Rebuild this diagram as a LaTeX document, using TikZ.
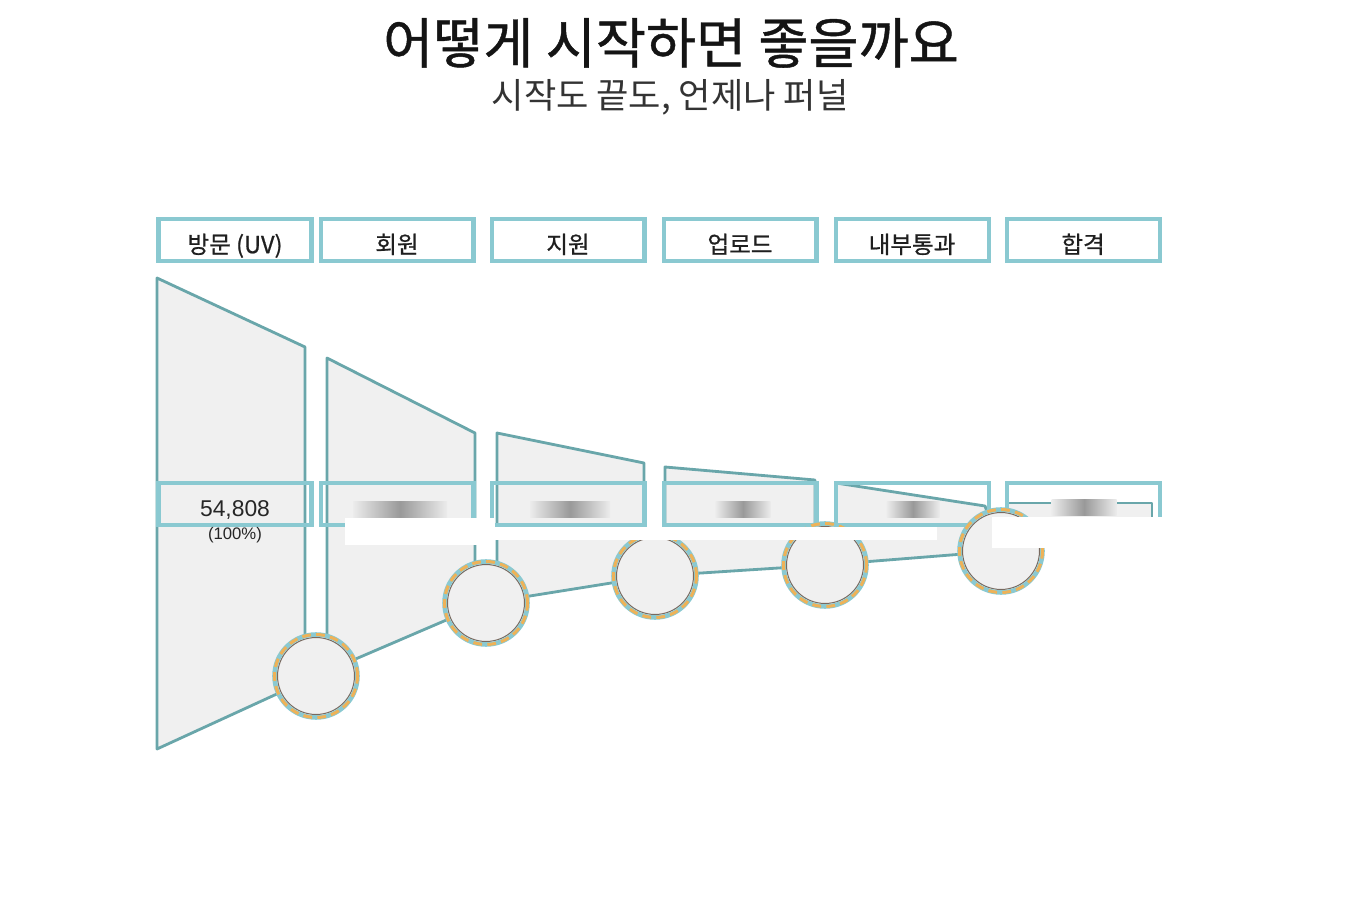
\documentclass[tikz,border=0pt]{standalone}
\usepackage{fontspec}
\setmainfont{Liberation Sans}
\newfontfamily\kofont{Noto Sans CJK KR}
\newfontfamily\kofontmed{Noto Sans CJK KR}[FakeBold=0.8]
\usepackage{tikz}
\usetikzlibrary{positioning}

\definecolor{boxteal}{RGB}{138,201,209}
\definecolor{edgeteal}{RGB}{105,166,170}
\definecolor{funnelgray}{RGB}{240,240,240}
\definecolor{ringorange}{RGB}{238,178,88}
\definecolor{ringinner}{RGB}{120,105,95}

\begin{document}
\begin{tikzpicture}[
    x=0.02cm, y=-0.02cm,
    hdrbox/.style={draw=boxteal, line width=2.3pt, minimum width=3.06cm, minimum height=0.84cm, inner sep=0pt,
        text height=1.5em, text depth=0pt, font=\kofontmed\fontsize{13.4}{15}\selectfont, text=black!88},
    valbox/.style={hdrbox, text height=1.45em, font=\fontsize{13}{15}\selectfont, text=black!85},
    funnelpart/.style={fill=funnelgray, draw=edgeteal, line width=1.6pt, line join=round},
    stagering/.style={circle, minimum size=1.66cm, inner sep=0pt, fill=funnelgray, draw=boxteal, line width=2.6pt,
        postaction={draw=ringorange, line width=1.7pt, dash pattern=on 5pt off 3pt},
        path picture={\draw[ringinner, line width=0.6pt] (path picture bounding box.center) circle[radius=0.77cm];}},
    blurbar/.style={left color=gray!15, right color=gray!15, middle color=gray!80, minimum height=0.32cm, inner sep=0pt},
    coverpatch/.style={fill=white, draw=none}
]
    \useasboundingbox (0,0) rectangle (1346,922);

    % title
    \node[font=\kofontmed\fontsize{31}{36}\selectfont, text=black!92] (title) at (671,43) {어떻게 시작하면 좋을까요};
    \node[font=\kofont\fontsize{20}{24}\selectfont, text=black!80] (subtitle) at (670,97) {시작도 끝도, 언제나 퍼널};

    % stage headers
    \node[hdrbox] (h1) at (235,240) {방문 (UV)};
    \node[hdrbox, right=0.1cm of h1] (h2) {회원};
    \node[hdrbox, right=0.28cm of h2] (h3) {지원};
    \node[hdrbox, right=0.3cm of h3] (h4) {업로드};
    \node[hdrbox, right=0.3cm of h4] (h5) {내부통과};
    \node[hdrbox, right=0.28cm of h5] (h6) {합격};

    % funnel
    \coordinate (p1) at (316,676);
    \coordinate (p2) at (486,603);
    \coordinate (p3) at (655,576);
    \coordinate (p4) at (825,565);
    \coordinate (p5) at (1001,551);

    \draw[funnelpart] (157,278) -- (305,347) -- (305,676) -- (p1) -- (157,749) -- cycle;
    \draw[funnelpart] (327,358) -- (475,433) -- (475,603) -- (p2) -- (p1) -- (327,676) -- cycle;
    \draw[funnelpart] (497,433) -- (644,463) -- (644,576) -- (p3) -- (p2) -- (497,603) -- cycle;
    \draw[funnelpart] (665,467) -- (815,480) -- (815,565) -- (p4) -- (p3) -- (665,576) -- cycle;
    \draw[funnelpart] (836,483) -- (985,506) -- (p5) -- (p4) -- (836,565) -- cycle;
    \draw[funnelpart] (1007,503) -- (1152,503) -- (1152,546) -- (1007,546) -- cycle;

    % values
    \node[valbox, below=4.36cm of h1] (v1) {54,808};
    \node[valbox, below=4.36cm of h2] (v2) {};
    \node[valbox, below=4.36cm of h3] (v3) {};
    \node[valbox, below=4.36cm of h4] (v4) {};
    \node[valbox, below=4.36cm of h5] (v5) {};
    \node[valbox, below=4.36cm of h6] (v6) {};
    \node[font=\fontsize{9.5}{11}\selectfont, text=black!85, inner sep=0pt, below=0.01cm of v1] (share1) {(100\%)};

    \node[stagering] (c1) at (p1) {};
    \node[stagering] (c2) at (p2) {};
    \node[stagering] (c3) at (p3) {};
    \node[stagering] (c4) at (p4) {};
    \node[stagering] (c5) at (p5) {};

    \node[blurbar, minimum width=1.88cm] (b2) at ([xshift=0.06cm, yshift=-0.11cm]v2.center) {};
    \node[blurbar, minimum width=1.6cm] (b3) at ([xshift=0.04cm, yshift=-0.11cm]v3.center) {};
    \node[blurbar, minimum width=1.1cm] (b4) at ([xshift=0.06cm, yshift=-0.11cm]v4.center) {};
    \node[blurbar, minimum width=1.06cm] (b5) at ([xshift=0.02cm, yshift=-0.11cm]v5.center) {};
    \node[blurbar, minimum width=1.3cm] (b6) at ([xshift=0.02cm, yshift=-0.08cm]v6.center) {};

    % cut-outs
    \fill[coverpatch] (345,518) rectangle (495,545);
    \fill[coverpatch] (495,527) rectangle (937,540);
    \fill[coverpatch] (992,517) rectangle (1163,548);
\end{tikzpicture}
\end{document}
